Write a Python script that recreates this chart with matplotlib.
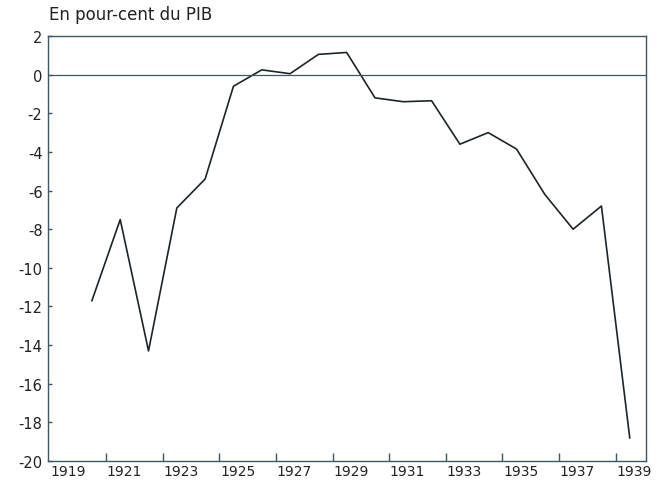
import matplotlib.pyplot as plt
from matplotlib.ticker import FixedLocator

years = list(range(1920, 1940))
solde = [-11.7, -7.5, -14.3, -6.9, -5.4, -0.6, 0.25, 0.05, 1.05, 1.15,
         -1.2, -1.4, -1.35, -3.6, -3.0, -3.85, -6.2, -8.0, -6.8, -18.8]
year_labels = [1919, 1921, 1923, 1925, 1927, 1929, 1931, 1933, 1935, 1937, 1939]
y_ticks = list(range(-20, 3, 2))

axis_col = '#3d5862'
fig = plt.figure(figsize=(6.58, 4.81), dpi=100)
ax = fig.add_axes([0.073, 0.0395, 0.909, 0.8835])

ax.plot(years, solde, color='#1c2529', lw=1.2)
ax.axhline(0, color=axis_col, lw=0.9)

ax.set_xlim(1918.45, 1939.58)
ax.set_ylim(-20, 2)

# labels on the odd years, tick marks half-way between
ax.xaxis.set_major_locator(FixedLocator([y + 0.15 for y in year_labels]))
ax.set_xticklabels([str(y) for y in year_labels])
ax.xaxis.set_minor_locator(FixedLocator([y + 0.5 for y in range(1920, 1939, 2)]))
ax.tick_params(axis='x', which='major', length=0, pad=2, labelsize=10, colors='#222')
ax.tick_params(axis='x', which='minor', direction='in', length=6, width=1, color=axis_col)

ax.set_yticks(y_ticks)
ax.set_yticklabels([str(t) for t in y_ticks])
ax.tick_params(axis='y', direction='in', length=3, width=1, color=axis_col,
               labelsize=10.5, labelcolor='#222', pad=4)

for s in ax.spines.values():
    s.set_color(axis_col)
    s.set_linewidth(1)

fig.text(0.075, 0.95, 'En pour-cent du PIB', fontsize=12, color='#222',
         ha='left', va='bottom')

plt.savefig('out.png', dpi=100)
